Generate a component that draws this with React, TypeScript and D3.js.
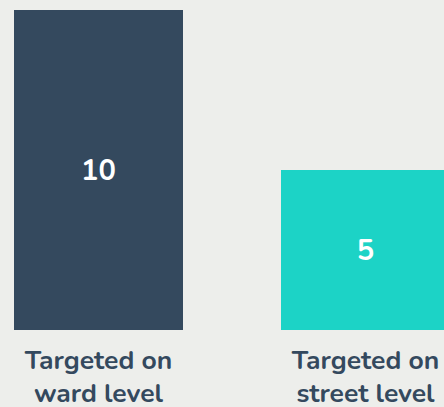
import React from "react";
import * as d3 from "d3";

const categories: string[][] = [["Targeted on", "ward level"], ["Targeted on", "street level"]];
const values: number[] = [10, 5];
const colors: string[] = ["#34495e", "#1cd3c6"];

const W = 444;
const H = 407;

export default function App() {
  const keys = categories.map((c) => c.join(" "));
  const x = d3.scaleBand<string>().domain(keys).range([14, 450]).paddingInner(98 / 267).paddingOuter(0);
  const y = d3.scaleLinear().domain([0, 10]).range([330, 10]);
  const font = "Nunito, Lato, 'Open Sans', sans-serif";
  return (
    <svg width={W} height={H} style={{ position: "absolute", left: 0, top: 0 }}>
      <rect x={0} y={0} width={W} height={H} fill="#edeeeb" />
      {values.map((v, i) => {
        const bx = x(keys[i])!;
        const bw = x.bandwidth();
        const cx = bx + bw / 2;
        return (
          <g key={i}>
            <rect x={bx} y={y(v)} width={bw} height={y(0) - y(v)} fill={colors[i]} />
            <text
              x={cx}
              y={(y(v) + y(0)) / 2}
              dy="0.33em"
              textAnchor="middle"
              fill="#ffffff"
              fontFamily={font}
              fontWeight={700}
              fontSize={29}
            >
              {v}
            </text>
            {categories[i].map((line, j) => (
              <text
                key={j}
                x={cx}
                y={369 + j * 33}
                textAnchor="middle"
                fill="#34495e"
                fontFamily={font}
                fontWeight={700}
                fontSize={26.5}
              >
                {line}
              </text>
            ))}
          </g>
        );
      })}
    </svg>
  );
}
